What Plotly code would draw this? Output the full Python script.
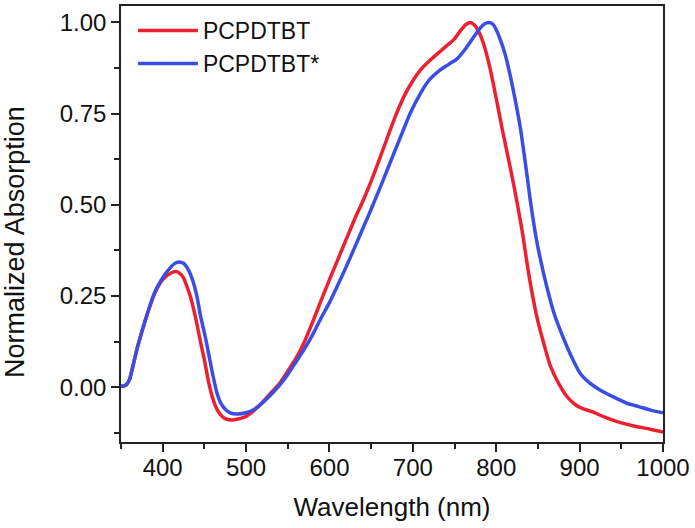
import plotly.graph_objects as go

# PCPDTBT (red)
wl_red = [350, 355, 360, 365, 370, 380, 390, 400, 410, 416, 420, 425, 430, 433, 440, 445,
          450, 455, 460, 465, 470, 475, 483, 490, 500, 510, 520, 530, 540, 553, 560, 570,
          580, 590, 600, 610, 620, 630, 640, 650, 660, 670, 680, 690, 700, 710, 720, 730,
          740, 750, 758, 764, 769, 775, 780, 785, 793, 801, 807, 813, 821, 831, 839, 849,
          857, 865, 875, 885, 895, 903, 915, 930, 945, 965, 985, 1000]
abs_red = [0.003, 0.004, 0.02, 0.065, 0.112, 0.19, 0.255, 0.295, 0.313, 0.317, 0.313, 0.3,
           0.27, 0.25, 0.185, 0.128, 0.075, 0.015, -0.03, -0.06, -0.077, -0.086, -0.09,
           -0.087, -0.08, -0.063, -0.04, -0.015, 0.01, 0.055, 0.08, 0.125, 0.18, 0.238,
           0.295, 0.35, 0.405, 0.46, 0.51, 0.565, 0.625, 0.688, 0.748, 0.8, 0.84, 0.872,
           0.895, 0.915, 0.935, 0.955, 0.98, 0.995, 1.0, 0.99, 0.97, 0.94, 0.87, 0.78,
           0.71, 0.644, 0.555, 0.43, 0.31, 0.19, 0.12, 0.058, 0.01, -0.026, -0.048,
           -0.058, -0.067, -0.082, -0.094, -0.106, -0.115, -0.123]

# PCPDTBT* (blue)
wl_blue = [350, 355, 360, 365, 370, 380, 390, 400, 410, 415, 421, 425, 430, 435, 441, 445,
           452, 460, 465, 470, 475, 481, 489, 500, 510, 520, 530, 540, 550, 560, 570, 580,
           590, 600, 610, 620, 630, 640, 650, 660, 670, 685, 697, 709, 720, 733, 743, 753,
           763, 773, 781, 786, 791, 796, 800, 805, 811, 817, 823, 829, 837, 841, 849, 857,
           861, 869, 877, 889, 901, 912, 925, 941, 957, 971, 985, 1000]
abs_blue = [0.003, 0.005, 0.02, 0.065, 0.112, 0.19, 0.258, 0.3, 0.33, 0.34, 0.343, 0.34,
            0.325, 0.3, 0.25, 0.2, 0.128, 0.035, -0.015, -0.045, -0.06, -0.07, -0.073,
            -0.07, -0.06, -0.042, -0.02, 0.005, 0.035, 0.07, 0.105, 0.145, 0.19, 0.232,
            0.28, 0.33, 0.382, 0.435, 0.488, 0.543, 0.6, 0.685, 0.752, 0.805, 0.843, 0.87,
            0.885, 0.9, 0.927, 0.96, 0.985, 0.996, 1.0, 0.995, 0.98, 0.952, 0.91, 0.852,
            0.785, 0.71, 0.58, 0.51, 0.395, 0.31, 0.272, 0.205, 0.155, 0.09, 0.037, 0.012,
            -0.008, -0.027, -0.044, -0.053, -0.0625, -0.07]

x_ticks = [400, 500, 600, 700, 800, 900, 1000]
y_ticks = [0.0, 0.25, 0.5, 0.75, 1.0]
y_title = "Normalized Absorption"

FONT = "Liberation Sans, Arial, Helvetica, sans-serif"
RED = "#EE2030"
BLUE = "#3A4EE6"
AXIS = "#222222"

fig = go.Figure()
fig.add_trace(go.Scatter(x=wl_red, y=abs_red, mode="lines", name="PCPDTBT",
                         line=dict(color=RED, width=3.5, shape="spline", smoothing=0.6)))
fig.add_trace(go.Scatter(x=wl_blue, y=abs_blue, mode="lines", name="PCPDTBT*",
                         line=dict(color=BLUE, width=3.5, shape="spline", smoothing=0.6)))

fig.update_layout(
    width=695, height=528,
    margin=dict(l=121, r=32, t=4, b=86),
    paper_bgcolor="white", plot_bgcolor="white",
    font=dict(family=FONT, color="#111111", size=24),
    showlegend=True,
    legend=dict(x=0.022, y=0.993, xanchor="left", yanchor="top",
                bgcolor="rgba(0,0,0,0)", font=dict(size=23),
                itemwidth=60, tracegroupgap=0),
)
# y-axis title placed as a rotated text label at the reference position
fig.add_annotation(text=y_title, xref="paper", yref="paper",
                   x=(15 - 121) / 542, y=(442 - 241) / 438,
                   xanchor="center", yanchor="middle", textangle=-90,
                   showarrow=False, font=dict(size=27, family=FONT, color="#111111"))

fig.update_xaxes(
    range=[350, 1000], tickvals=x_ticks, ticktext=[str(v) for v in x_ticks],
    showline=True, linecolor=AXIS, linewidth=1.5, mirror=True,
    ticks="outside", ticklen=8, tickwidth=1.5, tickcolor=AXIS,
    minor=dict(dtick=50, tick0=0, ticks="outside", ticklen=5, tickwidth=1.5, tickcolor=AXIS),
    showgrid=False, zeroline=False,
    tickfont=dict(size=24), ticklabelstandoff=-5,
    title=dict(text="Wavelength (nm)", font=dict(size=26), standoff=18),
)
fig.update_yaxes(
    range=[-0.15, 1.045], tickvals=y_ticks, ticktext=[f"{v:.2f}" for v in y_ticks],
    showline=True, linecolor=AXIS, linewidth=1.5, mirror=True,
    ticks="outside", ticklen=8, tickwidth=1.5, tickcolor=AXIS,
    minor=dict(dtick=0.125, tick0=0, ticks="outside", ticklen=5, tickwidth=1.5, tickcolor=AXIS),
    showgrid=False, zeroline=False,
    tickfont=dict(size=24),
)

fig.write_html("out.html", config={"displayModeBar": False},
               post_script="document.body.style.margin='0px';")
